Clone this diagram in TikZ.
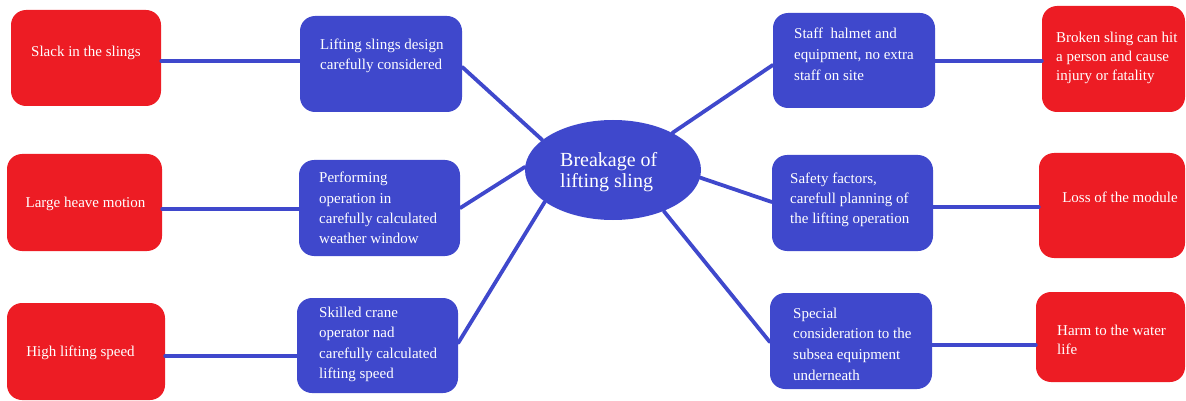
\documentclass[tikz,border=0pt]{standalone}
\usepackage{fontspec}
\setmainfont{Liberation Serif}
\usetikzlibrary{shapes.geometric}
\definecolor{boxred}{HTML}{ED1C24}
\definecolor{boxblue}{HTML}{3F48CC}
\tikzset{
  redbox/.style={fill=boxred, draw=none, rounded corners=15pt},
  bluebox/.style={fill=boxblue, draw=none, rounded corners=15pt},
  txt/.style={text=white, inner sep=0pt, font=\fontsize{15}{20}\selectfont, align=left},
  link/.style={draw=boxblue, line width=3.8pt, line cap=round},
}
\begin{document}
\begin{tikzpicture}[x=1pt, y=-1pt]
\useasboundingbox (0,0) rectangle (1186,401);
% boxes
\node[redbox, minimum width=150pt, minimum height=96pt] (R1) at (86,58) {};
\node[bluebox, minimum width=162pt, minimum height=96pt] (B1) at (381,64) {};
\node[redbox, minimum width=155pt, minimum height=97pt] (R2) at (84.5,202.5) {};
\node[bluebox, minimum width=161pt, minimum height=96pt] (B2) at (379.5,208) {};
\node[redbox, minimum width=158pt, minimum height=97pt] (R3) at (86,351.5) {};
\node[bluebox, minimum width=161pt, minimum height=95pt] (B3) at (377.5,345.5) {};
\node[ellipse, fill=boxblue, draw=none, minimum width=176pt, minimum height=100pt, inner sep=0pt] (E) at (613,170) {};
\node[bluebox, minimum width=162pt, minimum height=95pt] (RB1) at (854,60.5) {};
\node[redbox, minimum width=143pt, minimum height=106pt] (RR1) at (1113.5,59) {};
\node[bluebox, minimum width=161pt, minimum height=96pt] (RB2) at (852.5,203) {};
\node[redbox, minimum width=146pt, minimum height=105pt] (RR2) at (1112,205.5) {};
\node[bluebox, minimum width=162pt, minimum height=96pt] (RB3) at (851,341) {};
\node[redbox, minimum width=149pt, minimum height=90pt] (RR3) at (1110.5,337) {};
% connectors
\draw[link] (R1.east |- 0,61) -- (B1.west |- 0,61);
\draw[link] (R2.east |- 0,209) -- (B2.west |- 0,209);
\draw[link] (R3.east |- 0,356) -- (B3.west |- 0,356);
\draw[link] (RB1.east |- 0,61) -- (RR1.west |- 0,61);
\draw[link] (RB2.east |- 0,207) -- (RR2.west |- 0,207);
\draw[link] (RB3.east |- 0,345) -- (RR3.west |- 0,345);
\draw[link] (B1.east |- 0,67) -- (E.157);
\draw[link] (B2.east) -- (E.178);
\draw[link] (B3.east |- 0,343) -- (E.205);
\draw[link] (RB1.west |- 0,65) -- (E.32);
\draw[link] (RB2.west |- 0,202) -- (E.355);
\draw[link] (RB3.west |- 0,342) -- (E.321);
% texts
\node[txt] (tR1) at (86,53) {Slack in the slings};
\node[txt] (tR2) at (85.5,204) {Large heave motion};
\node[txt] (tR3) at (80.5,353) {High lifting speed};
\node[txt, anchor=west] (tB1) at (320,55.5) {Lifting slings design\\carefully considered};
\node[txt, anchor=west, font=\fontsize{15}{20.2}\selectfont] (tB2) at (319,208) {Performing\\operation in\\carefully calculated\\weather window};
\node[txt, anchor=west, font=\fontsize{15}{20.3}\selectfont] (tB3) at (319,344.5) {Skilled crane\\operator nad\\carefully calculated\\lifting speed};
\node[txt, anchor=west, font=\fontsize{20}{21}\selectfont] (tE) at (560,172.5) {Breakage of\\lifting sling};
\node[txt, anchor=west, font=\fontsize{15}{21}\selectfont] (tRB1) at (794,54) {Staff~ halmet and\\equipment, no extra\\staff on site};
\node[txt, anchor=west] (tRB2) at (790,200) {Safety factors,\\carefull planning of\\the lifting operation};
\node[txt, anchor=west, font=\fontsize{15}{20.6}\selectfont] (tRB3) at (793,344) {Special\\consideration to the\\subsea equipment\\underneath};
\node[txt, anchor=west, font=\fontsize{15}{19}\selectfont] (tRR1) at (1056,58) {Broken sling can hit\\a person and cause\\injury or fatality};
\node[txt] (tRR2) at (1120,197) {Loss of the module};
\node[txt, anchor=west, font=\fontsize{15}{18.5}\selectfont] (tRR3) at (1057,340) {Harm to the water\\life};
\end{tikzpicture}
\end{document}
